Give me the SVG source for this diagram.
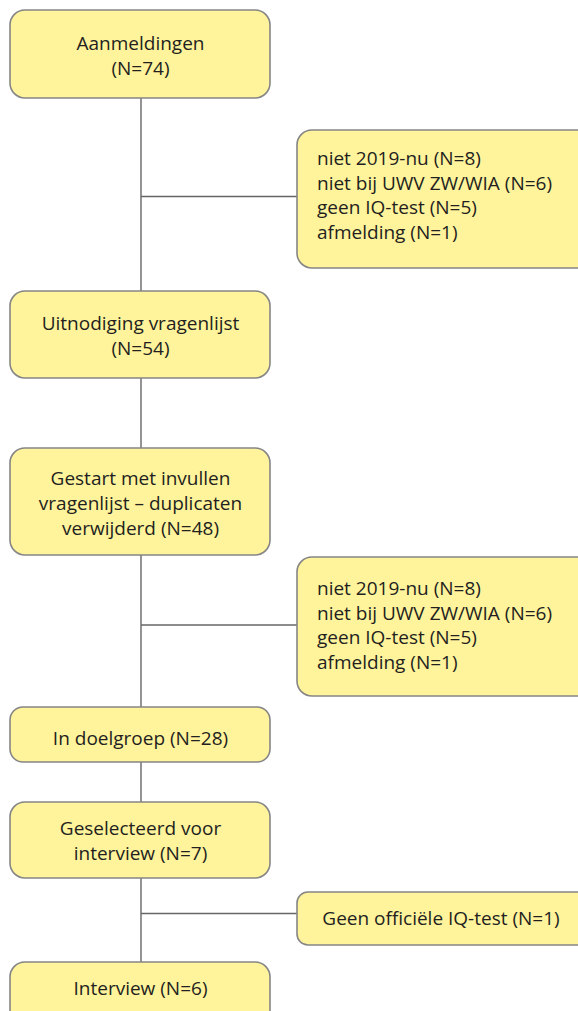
<svg xmlns="http://www.w3.org/2000/svg" width="578" height="1011" viewBox="0 0 578 1011">
<style>
.box{fill:#fff39c;stroke:#858585;stroke-width:1.6}
.t{font-family:"Open Sans","Noto Sans","Liberation Sans",sans-serif;font-size:19px;fill:#231f20}
.c{text-anchor:middle}
.ln{stroke:#666;stroke-width:1.4;fill:none}
</style>
<rect width="578" height="1011" fill="#fff"/>
<g id="connectors">
<line class="ln" x1="141" y1="98" x2="141" y2="962"/>
<line class="ln" x1="141" y1="196.5" x2="297" y2="196.5"/>
<line class="ln" x1="141" y1="625" x2="297" y2="625"/>
<line class="ln" x1="141" y1="913.5" x2="297" y2="913.5"/>
</g>
<g id="n1"><rect class="box" x="10" y="10" width="260" height="88" rx="15"/>
<text class="t c" x="140.5" y="50">Aanmeldingen</text><text class="t c" x="140.5" y="75">(N=74)</text></g>
<g id="s1"><rect class="box" x="297" y="130" width="296" height="138" rx="15"/>
<text class="t" x="317" y="165">niet 2019-nu (N=8)</text>
<text class="t" x="317" y="189.5">niet bij UWV ZW/WIA (N=6)</text>
<text class="t" x="317" y="214">geen IQ-test (N=5)</text>
<text class="t" x="317" y="238.5">afmelding (N=1)</text></g>
<g id="n2"><rect class="box" x="10" y="291" width="260" height="87" rx="15"/>
<text class="t c" x="140.5" y="330">Uitnodiging vragenlijst</text><text class="t c" x="140.5" y="355">(N=54)</text></g>
<g id="n3"><rect class="box" x="10" y="448" width="260" height="107" rx="15"/>
<text class="t c" x="140.5" y="485">Gestart met invullen</text><text class="t c" x="140.5" y="510">vragenlijst – duplicaten</text><text class="t c" x="140.5" y="535">verwijderd (N=48)</text></g>
<g id="s2"><rect class="box" x="297" y="557" width="296" height="139" rx="15"/>
<text class="t" x="317" y="595">niet 2019-nu (N=8)</text>
<text class="t" x="317" y="619.5">niet bij UWV ZW/WIA (N=6)</text>
<text class="t" x="317" y="644">geen IQ-test (N=5)</text>
<text class="t" x="317" y="668.5">afmelding (N=1)</text></g>
<g id="n4"><rect class="box" x="10" y="707" width="260" height="55" rx="13"/>
<text class="t c" x="140.5" y="745">In doelgroep (N=28)</text></g>
<g id="n5"><rect class="box" x="10" y="802" width="260" height="76" rx="15"/>
<text class="t c" x="140.5" y="835">Geselecteerd voor</text><text class="t c" x="140.5" y="860">interview (N=7)</text></g>
<g id="s3"><rect class="box" x="297" y="892" width="296" height="53" rx="11"/>
<text class="t c" x="441" y="925">Geen officiële IQ-test (N=1)</text></g>
<g id="n6"><rect class="box" x="10" y="962" width="260" height="70" rx="15"/>
<text class="t c" x="140.5" y="995">Interview (N=6)</text></g>
</svg>
